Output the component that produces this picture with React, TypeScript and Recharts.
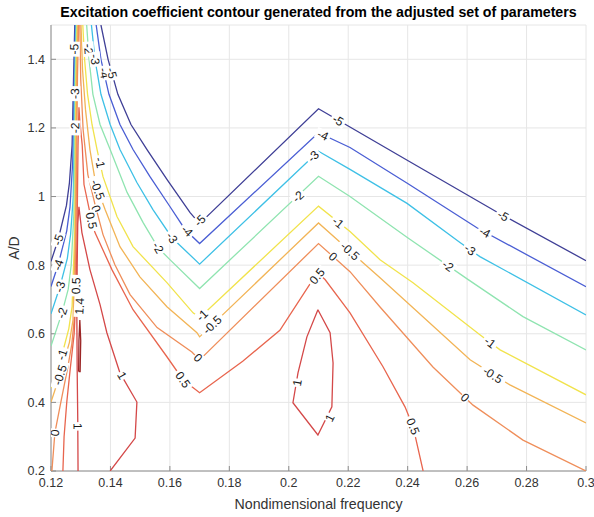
import React from 'react';
import { ScatterChart, Scatter, XAxis, YAxis, CartesianGrid } from 'recharts';

const xTicks = [0.12, 0.14, 0.16, 0.18, 0.2, 0.22, 0.24, 0.26, 0.28, 0.3];
const yTicks = [0.2, 0.4, 0.6, 0.8, 1, 1.2, 1.4];

// jet-like colours per contour level
const levelColors: Record<string, string> = {
    '-5': '#3f3f96',
    '-4': '#4a5ed4',
    '-3': '#3ec0e6',
    '-2': '#8fe4b0',
    '-1': '#f1e34c',
    '-0.5': '#f2b456',
    '0': '#ef8e5a',
    '0.5': '#e8654e',
    '1': '#d44848',
    '1.4': '#9c2626',
};

// contour paths, [frequency, A/D]
// left flank of the steep ridge near 0.128
const m5Left = [[0.12, 0.811], [0.1224, 0.874], [0.1252, 0.974], [0.1262, 1.04], [0.1271, 1.15], [0.1276, 1.35], [0.128, 1.5]];
const m4Left = [[0.12, 0.738], [0.1224, 0.801], [0.1253, 0.9], [0.1264, 0.97], [0.1273, 1.1], [0.1278, 1.35], [0.1282, 1.5]];
const m3Left = [[0.12, 0.658], [0.123, 0.737], [0.1255, 0.82], [0.1266, 0.89], [0.1275, 1.0], [0.128, 1.35], [0.1284, 1.5]];
const m2Left = [[0.12, 0.564], [0.1237, 0.661], [0.1258, 0.73], [0.1268, 0.8], [0.1277, 0.95], [0.1282, 1.35], [0.1286, 1.5]];
const m1Left = [[0.12, 0.442], [0.1237, 0.539], [0.126, 0.615], [0.1271, 0.68], [0.128, 0.9], [0.1284, 1.35], [0.1288, 1.5]];
const m05Left = [[0.12, 0.401], [0.123, 0.48], [0.1262, 0.575], [0.1274, 0.64], [0.1282, 0.9], [0.1286, 1.35], [0.129, 1.5]];
const zeroLeft = [[0.1203, 0.2], [0.1213, 0.311], [0.1233, 0.4], [0.1256, 0.5], [0.127, 0.57], [0.1279, 0.65], [0.1284, 0.9], [0.1289, 1.35], [0.1293, 1.5]];

// right flank -> valley at 0.17 -> ridge at 0.21 -> right edge
const m5Main = [[0.1368, 1.5], [0.1392, 1.4], [0.1425, 1.298], [0.1469, 1.21], [0.1523, 1.137], [0.159, 1.05], [0.1668, 0.953], [0.17, 0.921], [0.21, 1.256], [0.24, 1.105], [0.27, 0.955], [0.3, 0.813]];
const m4Main = [[0.1352, 1.5], [0.1368, 1.4], [0.1395, 1.298], [0.1432, 1.21], [0.1476, 1.137], [0.1533, 1.058], [0.16, 0.971], [0.1651, 0.904], [0.17, 0.863], [0.21, 1.186], [0.2206, 1.143], [0.24, 1.038], [0.2633, 0.909], [0.3, 0.737]];
const m3Main = [[0.1336, 1.5], [0.1348, 1.4], [0.1368, 1.298], [0.1399, 1.21], [0.1432, 1.137], [0.1489, 1.041], [0.1543, 0.962], [0.1607, 0.88], [0.17, 0.803], [0.21, 1.132], [0.2206, 1.079], [0.2398, 0.98], [0.2576, 0.866], [0.2643, 0.825], [0.3, 0.655]];
const m2Main = [[0.132, 1.5], [0.1328, 1.4], [0.1341, 1.298], [0.1365, 1.21], [0.1399, 1.137], [0.1456, 1.012], [0.151, 0.924], [0.156, 0.851], [0.16, 0.816], [0.17, 0.732], [0.21, 1.059], [0.2206, 1.0], [0.24, 0.88], [0.26, 0.76], [0.2788, 0.65], [0.3, 0.553]];
const m1Main = [[0.1307, 1.5], [0.1313, 1.4], [0.1323, 1.298], [0.1338, 1.21], [0.1355, 1.137], [0.1375, 1.058], [0.1422, 0.942], [0.1476, 0.854], [0.159, 0.749], [0.1678, 0.661], [0.17, 0.647], [0.21, 0.972], [0.2206, 0.898], [0.2307, 0.816], [0.2418, 0.749], [0.2643, 0.597], [0.2711, 0.553], [0.3, 0.422]];
const m05Main = [[0.1301, 1.5], [0.1306, 1.371], [0.1316, 1.254], [0.1331, 1.137], [0.1351, 1.035], [0.1382, 0.962], [0.1432, 0.854], [0.1499, 0.766], [0.159, 0.679], [0.1691, 0.603], [0.17, 0.591], [0.21, 0.923], [0.225, 0.807], [0.2307, 0.763], [0.2418, 0.676], [0.261, 0.524], [0.2744, 0.451], [0.3, 0.34]];
const zeroMain = [[0.1297, 1.5], [0.13, 1.342], [0.1308, 1.196], [0.1324, 1.064], [0.1348, 0.977], [0.1375, 0.889], [0.1415, 0.801], [0.1466, 0.714], [0.1557, 0.618], [0.1674, 0.547], [0.17, 0.524], [0.21, 0.863], [0.2206, 0.781], [0.2307, 0.678], [0.2485, 0.503], [0.262, 0.392], [0.2788, 0.29], [0.3, 0.2]];
const halfMain = [[0.124, 0.2], [0.1244, 0.3], [0.1253, 0.4], [0.1265, 0.5], [0.1278, 0.6], [0.1283, 0.7], [0.1287, 0.85], [0.1289, 1.0], [0.1291, 1.15], [0.1294, 1.26], [0.1297, 1.22], [0.1305, 1.15], [0.1311, 1.035], [0.1338, 0.924], [0.1348, 0.895], [0.1405, 0.787], [0.1476, 0.67], [0.159, 0.533], [0.1644, 0.466], [0.17, 0.428], [0.1845, 0.52], [0.197, 0.61], [0.2071, 0.745], [0.21, 0.775], [0.2122, 0.758], [0.2206, 0.661], [0.2317, 0.504], [0.2391, 0.387], [0.2418, 0.33], [0.2452, 0.2]];
const oneArch = [[0.1291, 0.2], [0.129, 0.35], [0.1288, 0.5], [0.1287, 0.65], [0.1288, 0.8], [0.129, 0.92], [0.1294, 0.97], [0.1304, 0.895], [0.1331, 0.787], [0.1365, 0.685], [0.1388, 0.603], [0.1432, 0.486], [0.1489, 0.401], [0.1483, 0.296], [0.1399, 0.2]];
const oneLoop = [[0.2098, 0.67], [0.2139, 0.603], [0.2149, 0.515], [0.2145, 0.387], [0.2098, 0.305], [0.2014, 0.399], [0.2031, 0.486], [0.2061, 0.591], [0.2098, 0.67]];
const peakLoop = [[0.1293, 0.49], [0.1294, 0.58], [0.1297, 0.64], [0.13, 0.58], [0.1298, 0.49], [0.1293, 0.49]];

const contours = [
    { level: -5, pts: m5Left }, { level: -5, pts: m5Main },
    { level: -4, pts: m4Left }, { level: -4, pts: m4Main },
    { level: -3, pts: m3Left }, { level: -3, pts: m3Main },
    { level: -2, pts: m2Left }, { level: -2, pts: m2Main },
    { level: -1, pts: m1Left }, { level: -1, pts: m1Main },
    { level: -0.5, pts: m05Left }, { level: -0.5, pts: m05Main },
    { level: 0, pts: zeroLeft }, { level: 0, pts: zeroMain },
    { level: 0.5, pts: halfMain },
    { level: 1, pts: oneArch }, { level: 1, pts: oneLoop },
    { level: 1.4, pts: peakLoop },
];

// contour label anchors: [level, frequency, A/D]
const labelSpots = [
    [-5, 0.2166, 1.222], [-4, 0.2115, 1.179], [-3, 0.2082, 1.117], [-2, 0.2031, 1.0],
    [-1, 0.2166, 0.924], [-0.5, 0.2206, 0.841], [0, 0.2149, 0.825], [0.5, 0.2095, 0.768],
    [-5, 0.2721, 0.944], [-4, 0.266, 0.896], [-3, 0.261, 0.845], [-2, 0.2536, 0.798],
    [-1, 0.2677, 0.575], [-0.5, 0.2687, 0.48], [0, 0.2593, 0.414], [0.5, 0.2418, 0.33],
    [-5, 0.1701, 0.93], [-4, 0.1658, 0.9], [-3, 0.1607, 0.88], [-2, 0.156, 0.851],
    [-1, 0.1708, 0.654], [-0.5, 0.1742, 0.626], [0, 0.1695, 0.53], [0.5, 0.1644, 0.466],
    [1, 0.1439, 0.478], [1, 0.2028, 0.457], [1, 0.2138, 0.355],
    [-1, 0.1365, 1.099], [-0.5, 0.1357, 1.02], [0, 0.1352, 0.965], [0.5, 0.1336, 0.93],
    [-2, 0.1326, 1.43], [-3, 0.1348, 1.4], [-4, 0.1379, 1.36], [-5, 0.1405, 1.36],
    [-5, 0.1278, 1.43], [-3, 0.128, 1.3], [-2, 0.1281, 1.2],
    [0.5, 0.1284, 0.74], [1.4, 0.1296, 0.68], [1, 0.129, 0.33],
    [-5, 0.1224, 0.874], [-4, 0.1224, 0.801], [-3, 0.123, 0.737], [-2, 0.1237, 0.661],
    [-1, 0.1237, 0.539], [-0.5, 0.123, 0.48], [0, 0.1213, 0.311],
];

const CHART_W = 594;
const CHART_H = 517;
const MARGIN = { top: 25, right: 8, bottom: 0, left: 0 };
const X_AXIS_H = 46;
const Y_AXIS_W = 51;
const plotW = CHART_W - MARGIN.left - MARGIN.right - Y_AXIS_W;
const plotH = CHART_H - MARGIN.top - MARGIN.bottom - X_AXIS_H;
const kx = plotW / (0.3 - 0.12);
const ky = plotH / (1.5 - 0.2);

// rotate each label along the nearest segment of its own contour
const labelAngle = (level: number, x: number, y: number) => {
    let best = Infinity;
    let angle = 0;
    contours.filter(c => c.level === level).forEach(c => {
        for (let i = 0; i < c.pts.length - 1; i++) {
            const ax = (c.pts[i][0] - x) * kx;
            const ay = -(c.pts[i][1] - y) * ky;
            const bx = (c.pts[i + 1][0] - x) * kx;
            const by = -(c.pts[i + 1][1] - y) * ky;
            const dx = bx - ax;
            const dy = by - ay;
            const len2 = dx * dx + dy * dy || 1;
            const t = Math.max(0, Math.min(1, -(ax * dx + ay * dy) / len2));
            const d = Math.hypot(ax + t * dx, ay + t * dy);
            if (d < best) {
                best = d;
                let a = (Math.atan2(dy, dx) * 180) / Math.PI;
                if (a > 90) a -= 180;
                if (a < -90) a += 180;
                angle = a;
            }
        }
    });
    return angle;
};

const labelData = labelSpots.map(([level, x, y]) => ({ x, y, level, angle: labelAngle(level, x, y) }));

const NoDot = () => <g />;

const ContourLabel = (props: any) => {
    const { cx, cy, payload } = props;
    const text = String(payload.level);
    const w = text.length * 6.5 + 2;
    return (
        <g transform={`translate(${cx},${cy}) rotate(${payload.angle})`}>
            <rect x={-w / 2} y={-5.5} width={w} height={11} fill="#ffffff" />
            <text x={0} y={0} dy="0.35em" textAnchor="middle" fontSize={12} fill="#1a1a1a">
                {text}
            </text>
        </g>
    );
};

const axisColor = '#8c8c8c';
const tickStyle = { fill: '#333333', fontSize: 12.5 };
const font = '"Liberation Sans", Arial, Helvetica, sans-serif';

export default function App() {
    return (
        <div style={{ position: 'absolute', left: 0, top: 0, width: CHART_W, height: CHART_H, background: '#ffffff', fontFamily: font }}>
            <div style={{ position: 'absolute', top: 3, left: 40, width: 557, textAlign: 'center', fontSize: 14.2, fontWeight: 'bold', color: '#000', lineHeight: '18px', whiteSpace: 'nowrap' }}>
                Excitation coefficient contour generated from the adjusted set of parameters
            </div>
            <div style={{ position: 'absolute', top: 495, left: 51, width: 535, textAlign: 'center', fontSize: 14.2, color: '#333', lineHeight: '18px' }}>
                Nondimensional frequency
            </div>
            <div style={{ position: 'absolute', left: 14, top: 248, transform: 'translate(-50%, -50%) rotate(-90deg)', fontSize: 14, color: '#333', whiteSpace: 'nowrap' }}>
                A/D
            </div>
            <ScatterChart width={CHART_W} height={CHART_H} margin={MARGIN} style={{ fontFamily: font }}>
                <CartesianGrid stroke="#e6e6e6" />
                <XAxis
                    type="number"
                    dataKey="x"
                    domain={[0.12, 0.3]}
                    ticks={xTicks}
                    allowDataOverflow
                    height={X_AXIS_H}
                    tickSize={-5}
                    tickMargin={12}
                    tick={tickStyle}
                    stroke={axisColor}
                />
                <XAxis
                    xAxisId="top"
                    orientation="top"
                    type="number"
                    dataKey="x"
                    domain={[0.12, 0.3]}
                    ticks={xTicks}
                    allowDataOverflow
                    height={0}
                    tickSize={-5}
                    tick={false}
                    stroke={axisColor}
                />
                <YAxis
                    type="number"
                    dataKey="y"
                    domain={[0.2, 1.5]}
                    ticks={yTicks}
                    allowDataOverflow
                    width={Y_AXIS_W}
                    tickSize={-5}
                    tickMargin={11}
                    tick={tickStyle}
                    stroke={axisColor}
                />
                <YAxis
                    yAxisId="right"
                    orientation="right"
                    type="number"
                    dataKey="y"
                    domain={[0.2, 1.5]}
                    ticks={yTicks}
                    allowDataOverflow
                    width={0}
                    tickSize={-5}
                    tick={false}
                    stroke={axisColor}
                />
                {contours.map((c, i) => (
                    <Scatter
                        key={`c-${i}`}
                        data={c.pts.map(([x, y]) => ({ x, y }))}
                        line={{ stroke: levelColors[String(c.level)], strokeWidth: 1.3 }}
                        stroke={levelColors[String(c.level)]}
                        fill="none"
                        shape={NoDot}
                        isAnimationActive={false}
                    />
                ))}
                <Scatter data={labelData} shape={ContourLabel} isAnimationActive={false} />
            </ScatterChart>
        </div>
    );
}
